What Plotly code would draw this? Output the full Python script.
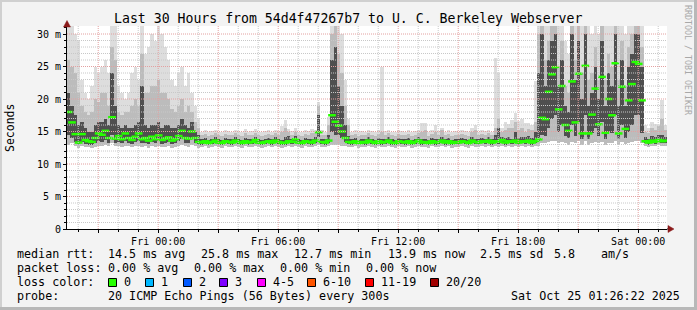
import plotly.graph_objects as go
from datetime import datetime, timedelta

# ---------------- data ----------------
start_time = datetime(2025, 10, 23, 19, 26, 22)
end_time = datetime(2025, 10, 25, 1, 26, 22)
step_minutes = 10

rtt_median = [
    18.0, 16.4, 14.6, 13.3, 14.6, 13.7, 13.5, 13.4, 14.0, 14.7,
    14.5, 15.1, 14.0, 17.2, 13.9, 14.3, 13.8, 14.7, 14.0, 13.7,
    14.2, 14.7, 13.8, 14.0, 13.6, 14.2, 13.8, 14.4, 13.7, 13.9,
    14.1, 13.6, 13.8, 14.3, 15.1, 14.0, 13.9, 15.0, 14.0, 13.4,
    13.3, 13.5, 13.2, 13.4, 13.6, 13.3, 13.2, 13.5, 13.4, 13.3,
    13.6, 13.4, 13.2, 13.5, 13.3, 13.4, 13.7, 13.3, 13.2, 13.4,
    13.5, 13.3, 13.6, 13.4, 13.2, 13.3, 13.5, 13.4, 13.8, 13.3,
    13.2, 13.5, 13.4, 13.3, 13.6, 14.9, 13.4, 13.3, 13.6, 17.5,
    16.5, 15.9, 15.0, 14.0, 13.4,
    13.3, 13.5, 13.2, 13.4, 13.3, 13.6, 13.4, 13.2, 13.5, 13.3,
    13.4, 13.6, 13.3, 13.2, 13.5, 13.4, 13.3, 13.5, 13.2, 13.4,
    13.6, 13.3, 13.4, 13.2, 13.5, 13.3, 13.4, 13.6, 13.3, 13.5,
    13.2, 13.4, 13.3, 13.5, 13.4, 13.2, 13.6, 13.4, 13.3, 13.5,
    13.4, 13.6, 13.3, 13.5, 13.4, 13.7, 13.3, 13.5, 13.4, 13.6,
    13.3, 13.5, 13.4, 13.6, 13.3, 13.5, 13.8,
    17.1, 16.9, 21.1, 23.8, 24.9, 18.4, 22.0, 16.0, 15.1, 22.7,
    16.4, 23.9, 14.7, 25.1, 14.7, 17.6, 21.6, 16.1, 23.4, 14.8,
    20.0, 17.5, 25.5, 14.7, 21.9, 15.4, 19.8, 22.3, 25.7, 25.4,
    19.8,
    13.5, 13.3, 13.6, 13.4, 13.7, 13.5, 13.6,
]

rtt_min = [
    13.0, 13.2, 12.8, 12.5, 12.8, 12.6, 12.6, 12.4, 12.6, 12.8,
    12.8, 13.0, 12.7, 13.2, 12.7, 12.8, 12.6, 12.8, 12.7, 12.6,
    12.7, 12.8, 12.6, 12.7, 12.5, 12.7, 12.6, 12.8, 12.6, 12.6,
    12.7, 12.5, 12.6, 12.7, 13.0, 12.7, 12.6, 12.9, 12.7, 12.5,
    12.6, 12.7, 12.5, 12.6, 12.7, 12.6, 12.5, 12.7, 12.6, 12.6,
    12.7, 12.6, 12.5, 12.7, 12.6, 12.6, 12.8, 12.6, 12.5, 12.6,
    12.7, 12.6, 12.7, 12.6, 12.5, 12.6, 12.7, 12.6, 12.8, 12.6,
    12.5, 12.7, 12.6, 12.6, 12.7, 13.0, 12.6, 12.6, 12.7, 13.0,
    13.0, 12.9, 12.8, 12.7, 12.6,
    12.6, 12.7, 12.5, 12.6, 12.6, 12.7, 12.6, 12.5, 12.7, 12.6,
    12.6, 12.7, 12.6, 12.5, 12.7, 12.6, 12.6, 12.7, 12.5, 12.6,
    12.7, 12.6, 12.6, 12.5, 12.7, 12.6, 12.6, 12.7, 12.6, 12.7,
    12.5, 12.6, 12.6, 12.7, 12.6, 12.5, 12.7, 12.6, 12.6, 12.7,
    12.6, 12.7, 12.6, 12.7, 12.6, 12.8, 12.6, 12.7, 12.6, 12.7,
    12.6, 12.7, 12.6, 12.7, 12.6, 12.7, 12.8,
    13.2, 13.2, 13.4, 13.5, 13.5, 13.3, 13.4, 13.2, 13.0, 13.4,
    13.2, 13.5, 13.0, 13.5, 13.0, 13.2, 13.4, 13.2, 13.4, 13.0,
    13.3, 13.2, 13.5, 13.0, 13.4, 13.1, 13.3, 13.4, 13.5, 13.5,
    13.2,
    12.8, 12.6, 12.8, 12.7, 12.9, 12.7, 12.8,
]

rtt_p30 = [
    14.5, 14.0, 13.4, 12.9, 13.4, 13.1, 13.0, 12.9, 13.2, 13.5,
    13.4, 13.7, 13.2, 14.5, 13.3, 13.4, 13.2, 13.5, 13.3, 13.1,
    13.4, 13.5, 13.2, 13.3, 13.1, 13.4, 13.2, 13.5, 13.1, 13.3,
    13.4, 13.1, 13.2, 13.5, 13.9, 13.3, 13.2, 13.8, 13.3, 13.0,
    13.0, 13.2, 12.9, 13.1, 13.3, 13.0, 12.9, 13.2, 13.1, 13.0,
    13.3, 13.1, 12.9, 13.2, 13.0, 13.1, 13.4, 13.0, 12.9, 13.1,
    13.2, 13.0, 13.3, 13.1, 12.9, 13.0, 13.2, 13.1, 13.5, 13.0,
    12.9, 13.2, 13.1, 13.0, 13.3, 14.2, 13.1, 13.0, 13.3, 15.0,
    14.5, 14.5, 14.0, 13.4, 13.1,
    13.0, 13.2, 12.9, 13.1, 13.0, 13.3, 13.1, 12.9, 13.2, 13.0,
    13.1, 13.3, 13.0, 12.9, 13.2, 13.1, 13.0, 13.2, 12.9, 13.1,
    13.3, 13.0, 13.1, 12.9, 13.2, 13.0, 13.1, 13.3, 13.0, 13.2,
    12.9, 13.1, 13.0, 13.2, 13.1, 12.9, 13.3, 13.1, 13.0, 13.2,
    13.1, 13.3, 13.0, 13.2, 13.1, 13.4, 13.0, 13.2, 13.1, 13.3,
    13.0, 13.2, 13.1, 13.3, 13.0, 13.2, 13.5,
    14.5, 14.3, 15.5, 17.0, 17.5, 15.0, 16.0, 14.3, 14.0, 16.0,
    14.3, 16.5, 13.9, 17.5, 13.9, 14.8, 15.5, 14.3, 16.5, 13.9,
    15.0, 14.8, 17.5, 13.9, 16.0, 14.0, 15.0, 16.0, 17.5, 17.5,
    14.8,
    13.2, 13.0, 13.3, 13.1, 13.4, 13.2, 13.3,
]

rtt_p70 = [
    21.0, 19.0, 17.5, 16.0, 16.5, 15.5, 15.0, 15.0, 16.0, 16.5,
    16.5, 17.0, 16.0, 24.0, 19.0, 16.0, 15.5, 16.0, 15.5, 15.5,
    16.0, 16.5, 22.0, 16.0, 15.5, 16.0, 16.0, 16.5, 15.5, 16.0,
    16.0, 15.5, 15.5, 16.0, 17.0, 16.0, 15.5, 16.5, 15.0, 14.5,
    13.8, 14.0, 13.7, 13.9, 14.1, 13.8, 13.7, 14.0, 13.9, 13.8,
    14.1, 13.9, 13.7, 14.0, 13.8, 13.9, 14.2, 13.8, 13.7, 13.9,
    14.0, 13.8, 14.1, 13.9, 13.7, 14.1, 14.3, 13.9, 14.3, 13.8,
    13.7, 14.0, 13.9, 13.9, 14.1, 17.5, 13.9, 13.8, 14.5, 26.0,
    28.0, 22.0, 19.0, 16.0, 14.3,
    13.8, 14.0, 13.7, 13.9, 13.8, 14.1, 13.9, 13.7, 14.0, 13.9,
    13.9, 14.1, 13.8, 13.7, 14.0, 13.9, 13.8, 14.0, 13.7, 13.9,
    14.1, 13.8, 13.9, 13.7, 14.0, 13.8, 13.9, 14.1, 13.8, 14.0,
    13.7, 13.9, 13.8, 14.0, 13.9, 13.7, 14.1, 13.9, 13.8, 14.0,
    13.9, 14.1, 13.8, 14.5, 15.5, 14.2, 14.0, 14.2, 13.9, 15.0,
    14.0, 14.2, 14.1, 14.3, 14.0, 15.0, 24.0,
    30.0, 22.0, 26.0, 29.0, 30.0, 22.0, 26.0, 19.0, 18.0, 30.0,
    23.0, 29.0, 20.0, 30.0, 19.0, 21.0, 25.0, 20.0, 29.0, 19.0,
    24.0, 22.0, 30.0, 19.0, 26.0, 19.0, 25.0, 27.0, 30.0, 30.0,
    25.0,
    14.2, 13.9, 14.3, 14.1, 14.4, 14.5, 14.2,
]

rtt_p90 = [
    26.0, 25.0, 24.0, 21.0, 19.0, 18.0, 17.5, 18.0, 20.0, 19.5,
    21.0, 21.0, 19.0, 28.0, 26.0, 18.0, 17.5, 18.0, 18.0, 19.0,
    20.0, 19.0, 27.0, 21.0, 21.0, 22.0, 22.0, 23.0, 21.0, 21.0,
    20.0, 18.5, 18.0, 19.0, 20.0, 18.0, 19.0, 18.0, 16.5, 15.5,
    14.4, 14.6, 14.3, 14.5, 14.7, 14.4, 14.3, 14.6, 14.5, 14.4,
    14.7, 14.5, 14.3, 14.8, 14.4, 14.5, 14.8, 14.4, 14.3, 14.5,
    14.6, 14.4, 14.7, 14.5, 15.0, 15.5, 14.9, 14.5, 15.0, 14.4,
    14.3, 14.6, 14.5, 14.8, 14.7, 19.0, 14.5, 14.4, 16.0, 30.0,
    31.5, 27.0, 24.0, 19.0, 16.0,
    14.4, 14.6, 14.3, 14.5, 14.4, 14.7, 14.5, 14.3, 14.6, 15.0,
    14.5, 14.7, 14.4, 14.3, 14.6, 14.5, 14.4, 14.6, 14.3, 14.5,
    14.7, 15.0, 15.2, 14.3, 14.6, 15.0, 14.5, 15.2, 14.4, 14.6,
    14.3, 14.5, 14.4, 14.6, 14.5, 14.3, 15.0, 15.2, 14.4, 14.6,
    14.5, 14.7, 14.4, 15.5, 17.0, 15.0, 15.2, 15.5, 15.5, 16.5,
    15.2, 15.6, 15.0, 15.4, 15.3, 16.5, 30.0,
    31.5, 26.0, 29.0, 31.5, 31.5, 25.0, 29.0, 22.0, 21.0, 31.5,
    26.0, 31.5, 24.0, 31.5, 23.0, 24.0, 28.0, 23.0, 31.5, 23.0,
    27.0, 25.0, 31.5, 23.0, 29.0, 22.0, 28.0, 30.0, 31.5, 31.5,
    28.0,
    15.0, 14.8, 15.5, 15.2, 15.8, 17.0, 15.2,
]

rtt_max = [
    31.5, 31.5, 30.0, 29.0, 23.0, 21.0, 20.0, 22.0, 25.0, 24.0,
    25.0, 26.0, 24.0, 31.5, 31.5, 22.0, 21.0, 20.0, 21.0, 24.0,
    25.0, 23.0, 31.5, 27.0, 28.0, 30.0, 29.0, 31.5, 30.0, 28.0,
    26.0, 23.0, 22.0, 24.0, 25.0, 22.0, 24.0, 21.0, 19.0, 17.0,
    15.0, 15.2, 14.9, 15.1, 15.3, 15.0, 14.9, 15.2, 15.1, 15.0,
    15.3, 15.1, 14.9, 15.4, 15.0, 15.1, 15.4, 15.0, 14.9, 15.1,
    15.2, 15.0, 15.3, 15.1, 15.8, 16.8, 15.4, 15.1, 15.6, 15.0,
    14.9, 15.2, 15.1, 15.4, 15.3, 19.5, 15.2, 15.0, 17.3, 31.5,
    31.5, 31.5, 30.0, 23.0, 17.0,
    15.0, 15.2, 14.9, 15.1, 15.0, 15.3, 15.1, 14.9, 15.2, 25.0,
    15.1, 15.3, 15.0, 14.9, 15.2, 15.1, 15.0, 15.2, 14.9, 15.1,
    15.3, 16.3, 16.3, 14.9, 15.2, 16.0, 15.1, 15.5, 15.0, 15.2,
    14.9, 15.1, 15.0, 15.2, 15.1, 14.9, 15.6, 16.0, 15.0, 15.2,
    15.1, 15.3, 15.0, 26.3, 24.0, 15.6, 16.5, 16.2, 16.8, 17.8,
    16.6, 17.0, 16.3, 16.3, 16.0, 22.7, 31.5,
    31.5, 31.5, 31.5, 31.5, 31.5, 31.5, 31.5, 29.0, 27.0, 31.5,
    31.5, 31.5, 31.5, 31.5, 31.5, 30.0, 31.5, 30.0, 31.5, 31.5,
    31.5, 31.5, 31.5, 31.5, 31.5, 30.0, 31.5, 31.5, 31.5, 31.5,
    31.5,
    16.0, 15.6, 16.5, 16.2, 16.0, 19.8, 16.0,
]

n_bins = len(rtt_median)
assert all(len(a) == n_bins for a in (rtt_min, rtt_p30, rtt_p70, rtt_p90, rtt_max)), \
    [len(a) for a in (rtt_median, rtt_min, rtt_p30, rtt_p70, rtt_p90, rtt_max)]

x_tick_labels = ["Fri 00:00", "Fri 06:00", "Fri 12:00", "Fri 18:00", "Sat 00:00"]
x_tick_times = [datetime(2025, 10, 24, 0), datetime(2025, 10, 24, 6),
                datetime(2025, 10, 24, 12), datetime(2025, 10, 24, 18),
                datetime(2025, 10, 25, 0)]
y_tick_vals = [0, 5, 10, 15, 20, 25, 30]
y_tick_labels = ["0", "5 m", "10 m", "15 m", "20 m", "25 m", "30 m"]

title_text = "Last 30 Hours from 54d4f47267b7 to U. C. Berkeley Webserver"
rtt_stats = ["14.5 ms avg", "25.8 ms max", "12.7 ms min", "13.9 ms now", "2.5 ms sd", "5.8", "am/s"]
loss_stats = ["0.00 % avg", "0.00 % max", "0.00 % min", "0.00 % now"]
loss_labels = ["0", "1", "2", "3", "4-5", "6-10", "11-19", "20/20"]
loss_colors = ["#26ff00", "#00b8ff", "#0059ff", "#7e00ff", "#ff00ff", "#ff5500", "#ff0000", "#a10000"]
probe_text = "20 ICMP Echo Pings (56 Bytes) every 300s"
stamp_text = "Sat Oct 25 01:26:22 2025"

# ---------------- layout geometry ----------------
W, H = 697, 310
L, R, T, B = 67, 30, 26, 81
PW, PH = W - L - R, H - T - B
Y_TOP = 31.23
FONT = "DejaVu Sans Mono"


def px(x):
    return (x - L) / PW


def py(y):
    return (H - B - y) / PH


times = [start_time + timedelta(minutes=step_minutes * (i + 0.5)) for i in range(n_bins)]
bar_w = step_minutes * 60 * 1000

fig = go.Figure()
for top, bottom, col in ((rtt_max, rtt_min, "#dddddd"),
                         (rtt_p90, rtt_min, "#bcbcbc"),
                         (rtt_p70, rtt_p30, "#4f4f4f")):
    fig.add_trace(go.Bar(
        x=times, y=[t - b for t, b in zip(top, bottom)], base=bottom,
        width=bar_w, marker=dict(color=col, line=dict(width=0)),
        showlegend=False, hoverinfo="skip"))

fig.add_trace(go.Scatter(
    x=times, y=rtt_median, mode="markers",
    marker=dict(symbol="line-ew", size=5.5, color="#26ff00",
                line=dict(color="#26ff00", width=2.5)),
    showlegend=False, hoverinfo="skip"))

shapes = []
# vertical grid
t = start_time.replace(minute=0, second=0) + timedelta(hours=1)
major_ticks = []
while t < end_time:
    major = t.hour % 3 == 0
    if major:
        major_ticks.append(t)
    shapes.append(dict(type="line", xref="x", yref="paper", x0=t, x1=t, y0=0, y1=1,
                       layer="above",
                       line=dict(color="#e3a0a0" if major else "#c8c8c8", width=1, dash="1px,1px")))
    t += timedelta(hours=1)
# horizontal grid
for v in range(1, 31):
    major = v % 5 == 0
    shapes.append(dict(type="line", xref="paper", yref="y", x0=0, x1=1, y0=v, y1=v,
                       layer="above",
                       line=dict(color="#e3a0a0" if major else "#c8c8c8", width=1, dash="1px,1px")))

# axis extensions and arrows
ARROW = "#8b1a1a"
shapes.append(dict(type="line", xref="paper", yref="paper", x0=px(667), x1=px(670),
                   y0=py(229), y1=py(229), line=dict(color="black", width=1)))
shapes.append(dict(type="path", xref="paper", yref="paper",
                   path=f"M {px(668)},{py(225.5)} L {px(674)},{py(229)} L {px(668)},{py(232.5)} Z",
                   fillcolor=ARROW, line=dict(color=ARROW, width=0.5)))
shapes.append(dict(type="path", xref="paper", yref="paper",
                   path=f"M {px(63.5)},{py(27)} L {px(67)},{py(20.5)} L {px(70.5)},{py(27)} Z",
                   fillcolor=ARROW, line=dict(color=ARROW, width=0.5)))

# frame
shapes.append(dict(type="rect", xref="paper", yref="paper", x0=px(0), x1=px(W), y0=py(0), y1=py(2),
                   fillcolor="#d0d0d0", line=dict(width=0), layer="below"))
shapes.append(dict(type="rect", xref="paper", yref="paper", x0=px(0), x1=px(2), y0=py(0), y1=py(H),
                   fillcolor="#d0d0d0", line=dict(width=0), layer="below"))
shapes.append(dict(type="rect", xref="paper", yref="paper", x0=px(0), x1=px(W), y0=py(H - 3), y1=py(H),
                   fillcolor="#b8b8b8", line=dict(width=0), layer="below"))
shapes.append(dict(type="rect", xref="paper", yref="paper", x0=px(W - 3), x1=px(W), y0=py(0), y1=py(H),
                   fillcolor="#b8b8b8", line=dict(width=0), layer="below"))

# loss colour squares
square_x = [108, 145, 183, 219, 257, 307, 365, 430]
for sx, col in zip(square_x, loss_colors):
    shapes.append(dict(type="rect", xref="paper", yref="paper",
                       x0=px(sx + 0.5), x1=px(sx + 8.5), y0=py(278.5), y1=py(286.5),
                       fillcolor=col, line=dict(color="black", width=1)))

ann = []


def text(s, x, y, size=11.7, xanchor="left", color="black", angle=0, yanchor="middle"):
    ann.append(dict(text=s, x=px(x), y=py(y), xref="paper", yref="paper", showarrow=False,
                    xanchor=xanchor, yanchor=yanchor, textangle=angle,
                    font=dict(family=FONT, size=size, color=color), borderpad=0))


text(title_text, 348, 18, size=13.2, xanchor="center")
text("Seconds", 10, 128, size=11.5, xanchor="center", angle=-90)
text("RRDTOOL / TOBI OETIKER", 688, 4, size=8.3, xanchor="center", color="#a8a8a8",
     angle=90, yanchor="top")

text("median rtt:", 16, 254)
for s, x in zip(rtt_stats, [107, 200, 293, 387, 479, 553, 600]):
    text(s, x, 254)
text("packet loss:", 16, 268)
for s, x in zip(loss_stats, [107, 193, 279, 365]):
    text(s, x, 268)
text("loss color:", 16, 282)
for sx, lab in zip(square_x, loss_labels):
    text(lab, sx + 15, 282)
text("probe:", 16, 296)
text(probe_text, 107, 296)
text(stamp_text, 681, 296, xanchor="right")

tick_label_map = {tt: lab for tt, lab in zip(x_tick_times, x_tick_labels)}

fig.update_layout(
    width=W, height=H,
    margin=dict(l=L, r=R, t=T, b=B, pad=0),
    paper_bgcolor="#f3f3f3", plot_bgcolor="white",
    barmode="overlay", bargap=0,
    showlegend=False,
    font=dict(family=FONT, size=10, color="black"),
    shapes=shapes, annotations=ann,
    xaxis=dict(type="date", range=[start_time, end_time], showgrid=False, zeroline=False,
               showline=True, linecolor="black", linewidth=1,
               tickvals=major_ticks, ticktext=[tick_label_map.get(tt, "") for tt in major_ticks],
               ticks="outside", ticklen=3, tickcolor="black", tickwidth=1,
               tickfont=dict(family=FONT, size=10, color="black"),
               minor=dict(dtick=3600000, tick0=start_time.replace(minute=0, second=0),
                          ticks="outside", ticklen=2, tickcolor="black", showgrid=False),
               fixedrange=True),
    yaxis=dict(range=[0, Y_TOP], showgrid=False, zeroline=False,
               showline=True, linecolor="black", linewidth=1,
               tickvals=y_tick_vals, ticktext=y_tick_labels,
               ticks="outside", ticklen=3, tickcolor="black", tickwidth=1,
               tickfont=dict(family=FONT, size=10, color="black"),
               minor=dict(dtick=1, ticks="outside", ticklen=2, tickcolor="black", showgrid=False),
               fixedrange=True),
)

fig.write_html("out.html", config={"displayModeBar": False})
